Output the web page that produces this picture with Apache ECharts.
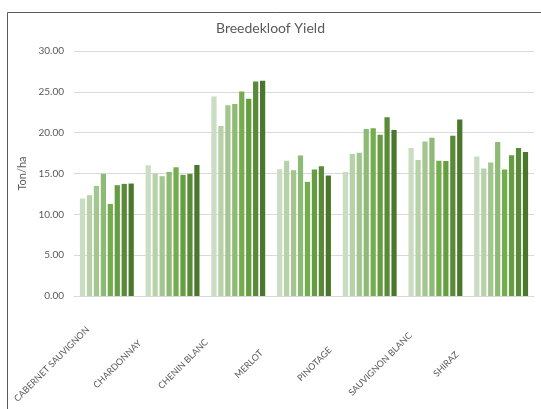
<!DOCTYPE html>
<html>
<head>
<meta charset="utf-8">
<script src="https://cdn.jsdelivr.net/npm/echarts@6/dist/echarts.min.js"></script>
<style>
  html, body { margin: 0; padding: 0; background: #ffffff; }
  #chart { width: 541px; height: 409px; }
</style>
</head>
<body>
<div id="chart"></div>
<script>
// Wine cultivars along the category axis
const categories = ['CABERNET SAUVIGNON', 'CHARDONNAY', 'CHENIN BLANC', 'MERLOT', 'PINOTAGE', 'SAUVIGNON BLANC', 'SHIRAZ'];

// Yield (ton/ha) per series, one value per cultivar
const series1 = [11.93, 16.02, 24.43, 15.53, 15.20, 18.11, 17.09];
const series2 = [12.34, 15.00, 20.82, 16.56, 17.38, 16.64, 15.61];
const series3 = [13.48, 14.67, 23.36, 15.41, 17.54, 18.93, 16.35];
const series4 = [14.96, 15.20, 23.52, 17.21, 20.45, 19.39, 18.85];
const series5 = [11.27, 15.78, 25.04, 13.98, 20.53, 16.56, 15.49];
const series6 = [13.57, 14.84, 24.14, 15.49, 19.75, 16.52, 17.25];
const series7 = [13.73, 14.96, 26.27, 15.90, 21.89, 19.63, 18.11];
const series8 = [13.77, 16.05, 26.35, 14.75, 20.33, 21.60, 17.62];

const seriesNames = ['Series 1', 'Series 2', 'Series 3', 'Series 4', 'Series 5', 'Series 6', 'Series 7', 'Series 8'];
const seriesData = [series1, series2, series3, series4, series5, series6, series7, series8];

// Monochromatic green ramp, light to dark
const palette = ['#cadcc1', '#b7d1a9', '#a3c690', '#8dba74', '#74ad4d', '#659d40', '#588a37', '#4b772d'];

const textColor = '#595959';
const fontFamily = 'Lato, "Noto Sans", sans-serif';

const chart = echarts.init(document.getElementById('chart'), null, { renderer: 'canvas' });

chart.setOption({
  animation: false,
  backgroundColor: '#ffffff',
  color: palette,
  title: {
    text: 'Breedekloof Yield',
    left: 'center',
    top: 16,
    textStyle: { color: textColor, fontSize: 14, fontWeight: 'normal', fontFamily: fontFamily }
  },
  grid: { left: 74, right: 7, top: 51, bottom: 113, containLabel: false },
  xAxis: {
    type: 'category',
    data: categories,
    axisLine: { show: true, lineStyle: { color: '#d9d9d9' } },
    axisTick: { show: false },
    axisLabel: {
      interval: 0,
      rotate: 45,
      align: 'center',
      verticalAlign: 'middle',
      margin: 13,
      padding: [0, 156, 0, 0],
      color: textColor,
      fontSize: 9,
      fontFamily: fontFamily
    }
  },
  yAxis: {
    type: 'value',
    min: 0,
    max: 30,
    interval: 5,
    name: 'Ton/ha',
    nameLocation: 'middle',
    nameGap: 38,
    nameTextStyle: { color: textColor, fontSize: 11, fontFamily: fontFamily },
    axisLine: { show: false },
    axisTick: { show: false },
    axisLabel: {
      margin: 10,
      color: textColor,
      fontSize: 10,
      fontFamily: fontFamily,
      formatter: function (v) { return v.toFixed(2); }
    },
    splitLine: { show: true, lineStyle: { color: '#d9d9d9', width: 1 } }
  },
  series: seriesData.map(function (d, i) {
    return {
      name: seriesNames[i],
      type: 'bar',
      data: d,
      barGap: '33%',
      barCategoryGap: '18%'
    };
  }),
  graphic: [{
    type: 'polyline',
    silent: true,
    shape: { points: [[7.5, 409], [7.5, 12.5], [541, 12.5]] },
    style: { stroke: '#5a5a5a', lineWidth: 1, fill: null }
  }]
});
</script>
</body>
</html>
